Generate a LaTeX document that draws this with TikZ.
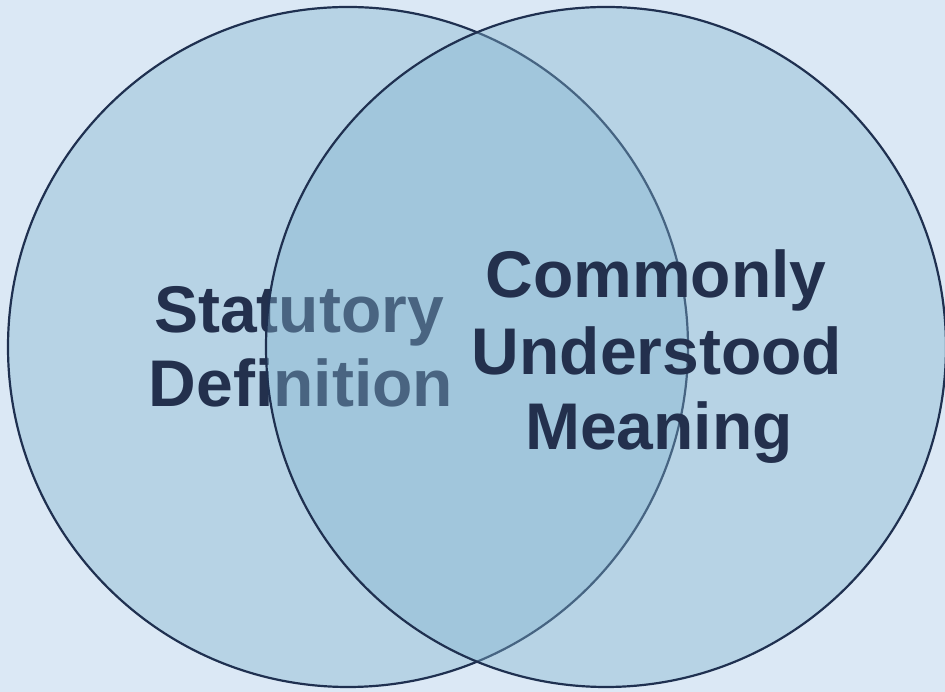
\documentclass[tikz,border=0pt]{standalone}
\usepackage{fontspec}
\setmainfont{Liberation Sans}
\definecolor{paleblue}{RGB}{219,232,245}
\definecolor{vennfill}{RGB}{130,180,207}
\definecolor{navyline}{RGB}{31,48,80}
\definecolor{navytext}{RGB}{35,48,77}
\tikzset{
  venn/.style={fill=vennfill, fill opacity=0.4, draw=navyline, draw opacity=1, line width=2.2pt},
  word/.style={anchor=base, inner sep=0pt, text=navytext, font=\bfseries\fontsize{66}{75}\selectfont}
}
\begin{document}
\begin{tikzpicture}[x=1pt,y=1pt]
\fill[paleblue] (0,0) rectangle (945,692);
\useasboundingbox (0,0) rectangle (945,692);

% left set
\draw[venn] (348,345) circle (340);
\node[word] (statutory) at (299,359) {Statutory};
\node[word] (definition) at (301,285) {Definition};

% right set, drawn over the left one
\fill[vennfill, fill opacity=0.4] (606,345) circle (340);
\draw[navyline, line width=2.2pt] (606,345) circle (340);
\node[word] (commonly) at (656,394) {Commonly};
\node[word] (understood) at (657,317) {Understood};
\node[word] (meaning) at (659,242) {Meaning};
\end{tikzpicture}
\end{document}
